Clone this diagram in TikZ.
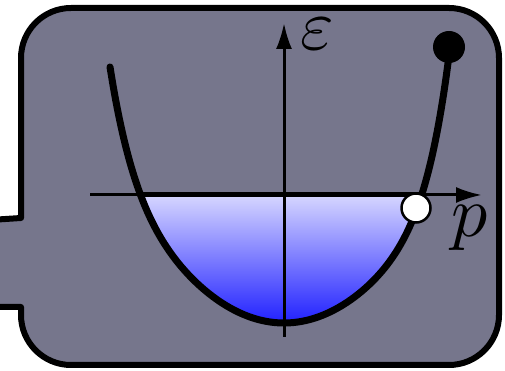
\documentclass[tikz,border=0pt]{standalone}
\usetikzlibrary{arrows.meta}
\definecolor{panel}{RGB}{118,118,140}
\definecolor{filltop}{RGB}{214,214,255}
\definecolor{fillbot}{RGB}{30,30,255}
\tikzset{
  outline/.style={line width=6pt, draw=black, fill=panel, line join=round},
  axis/.style={line width=3pt, -{Latex[length=26pt,width=16pt]}},
  band/.style={line width=7pt, line cap=round},
  fermi/.style={line width=5pt},
  lbl/.style={scale=7.2, inner sep=0pt},
}
\begin{document}
\begin{tikzpicture}[x=1pt,y=1pt]
\useasboundingbox (0,0) rectangle (505,371);
% panel with tab
\path[outline] (-10,151) -- (21,153) -- (21,313) arc[start angle=180,end angle=90,radius=50]
  -- (449,363) arc[start angle=90,end angle=0,radius=50]
  -- (499,56) arc[start angle=0,end angle=-90,radius=50]
  -- (71,6) arc[start angle=270,end angle=180,radius=50]
  -- (21,64) -- (-10,64);
\def\bandcurve{plot[domain=-1.74:1.653, samples=120, smooth] ({100*\x+284}, {48+52*\x*\x+98.6*(\x<0)*(abs(\x)/1.74)^8+120*(\x>=0)*(abs(\x)/1.64)^8})}
% filled states (slightly offset sliver on the right)
\begin{scope}
  \clip (330,0) rectangle (505,371);
  \clip[xshift=3pt,yshift=-1pt] \bandcurve -- cycle;
  \shade[top color=filltop, bottom color=fillbot] (100,46) rectangle (470,176);
\end{scope}
\begin{scope}
  \clip \bandcurve -- cycle;
  \shade[top color=filltop, bottom color=fillbot] (100,46) rectangle (470,176);
\end{scope}
% axes
\coordinate (xs) at (90,176);
\coordinate (xe) at (482,176);
\coordinate (ys) at (284,34);
\coordinate (ye) at (284,348);
\draw[axis] (xs) -- (xe);
\draw[axis] (ys) -- (ye);
\coordinate (fl) at (140,176);
\coordinate (fr) at (421,176);
\draw[fermi] (fl) -- (fr);
% band curve
\draw[band] \bandcurve;
% dots
\node[circle, fill=black, minimum size=32pt, inner sep=0pt] (top) at (449,324) {};
\node[circle, fill=white, draw=black, line width=2.5pt, minimum size=29pt, inner sep=0pt] (hole) at (416,163) {};
% labels
\node[lbl] (eps) at (317,337) {$\varepsilon$};
\node[lbl] (p) at (470,143) {$p$};
\end{tikzpicture}
\end{document}
